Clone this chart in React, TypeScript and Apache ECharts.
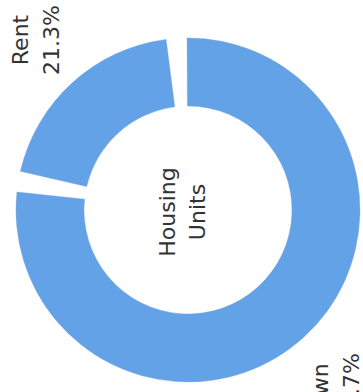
import React, { useEffect, useRef } from "react";
import * as echarts from "echarts";

const categories = ["Rent", "Own"];
const shares = [21.3, 78.7];
const centerLines = ["Housing", "Units"];

export default function App() {
  const ref = useRef<HTMLDivElement>(null);
  useEffect(() => {
    if (!ref.current) return;
    const chart = echarts.init(ref.current, null, { renderer: "svg" });
    const labelAnchors = [
      { x: 36, y: 40 },
      { x: 336, y: 388 },
    ];
    chart.setOption({
      animation: false,
      backgroundColor: "#ffffff",
      series: [
        {
          type: "pie",
          center: [188, 210],
          radius: [104, 172],
          startAngle: 170.5,
          clockwise: true,
          padAngle: 7,
          avoidLabelOverlap: false,
          itemStyle: { color: "#64a2e8", borderColor: "#6f9fd6", borderWidth: 0.4 },
          emphasis: { disabled: true },
          label: {
            show: true,
            position: "outside",
            formatter: (p: any) => `${p.name}\n${shares[p.dataIndex].toFixed(1)}%`,
            fontFamily: "DejaVu Sans",
            fontSize: 22,
            lineHeight: 31,
            color: "#333333",
            align: "center",
          },
          labelLine: { show: false },
          labelLayout: (params: any) => {
            const a = labelAnchors[params.dataIndex];
            return {
              x: a.x,
              y: a.y,
              rotate: 90,
              align: "center",
              verticalAlign: "middle",
            };
          },
          data: categories.map((c, i) => ({ name: c, value: shares[i] })),
        },
      ],
      graphic: [
        {
          type: "text",
          x: 182,
          y: 212,
          rotation: Math.PI / 2,
          style: {
            text: centerLines.join("\n"),
            fontFamily: "DejaVu Sans",
            fontSize: 22,
            lineHeight: 30,
            fill: "#333333",
            align: "center",
            verticalAlign: "middle",
          },
        },
      ],
    });
    return () => chart.dispose();
  }, []);
  return (
    <div
      ref={ref}
      style={{ position: "fixed", left: 0, top: 0, width: 363, height: 392 }}
    />
  );
}
